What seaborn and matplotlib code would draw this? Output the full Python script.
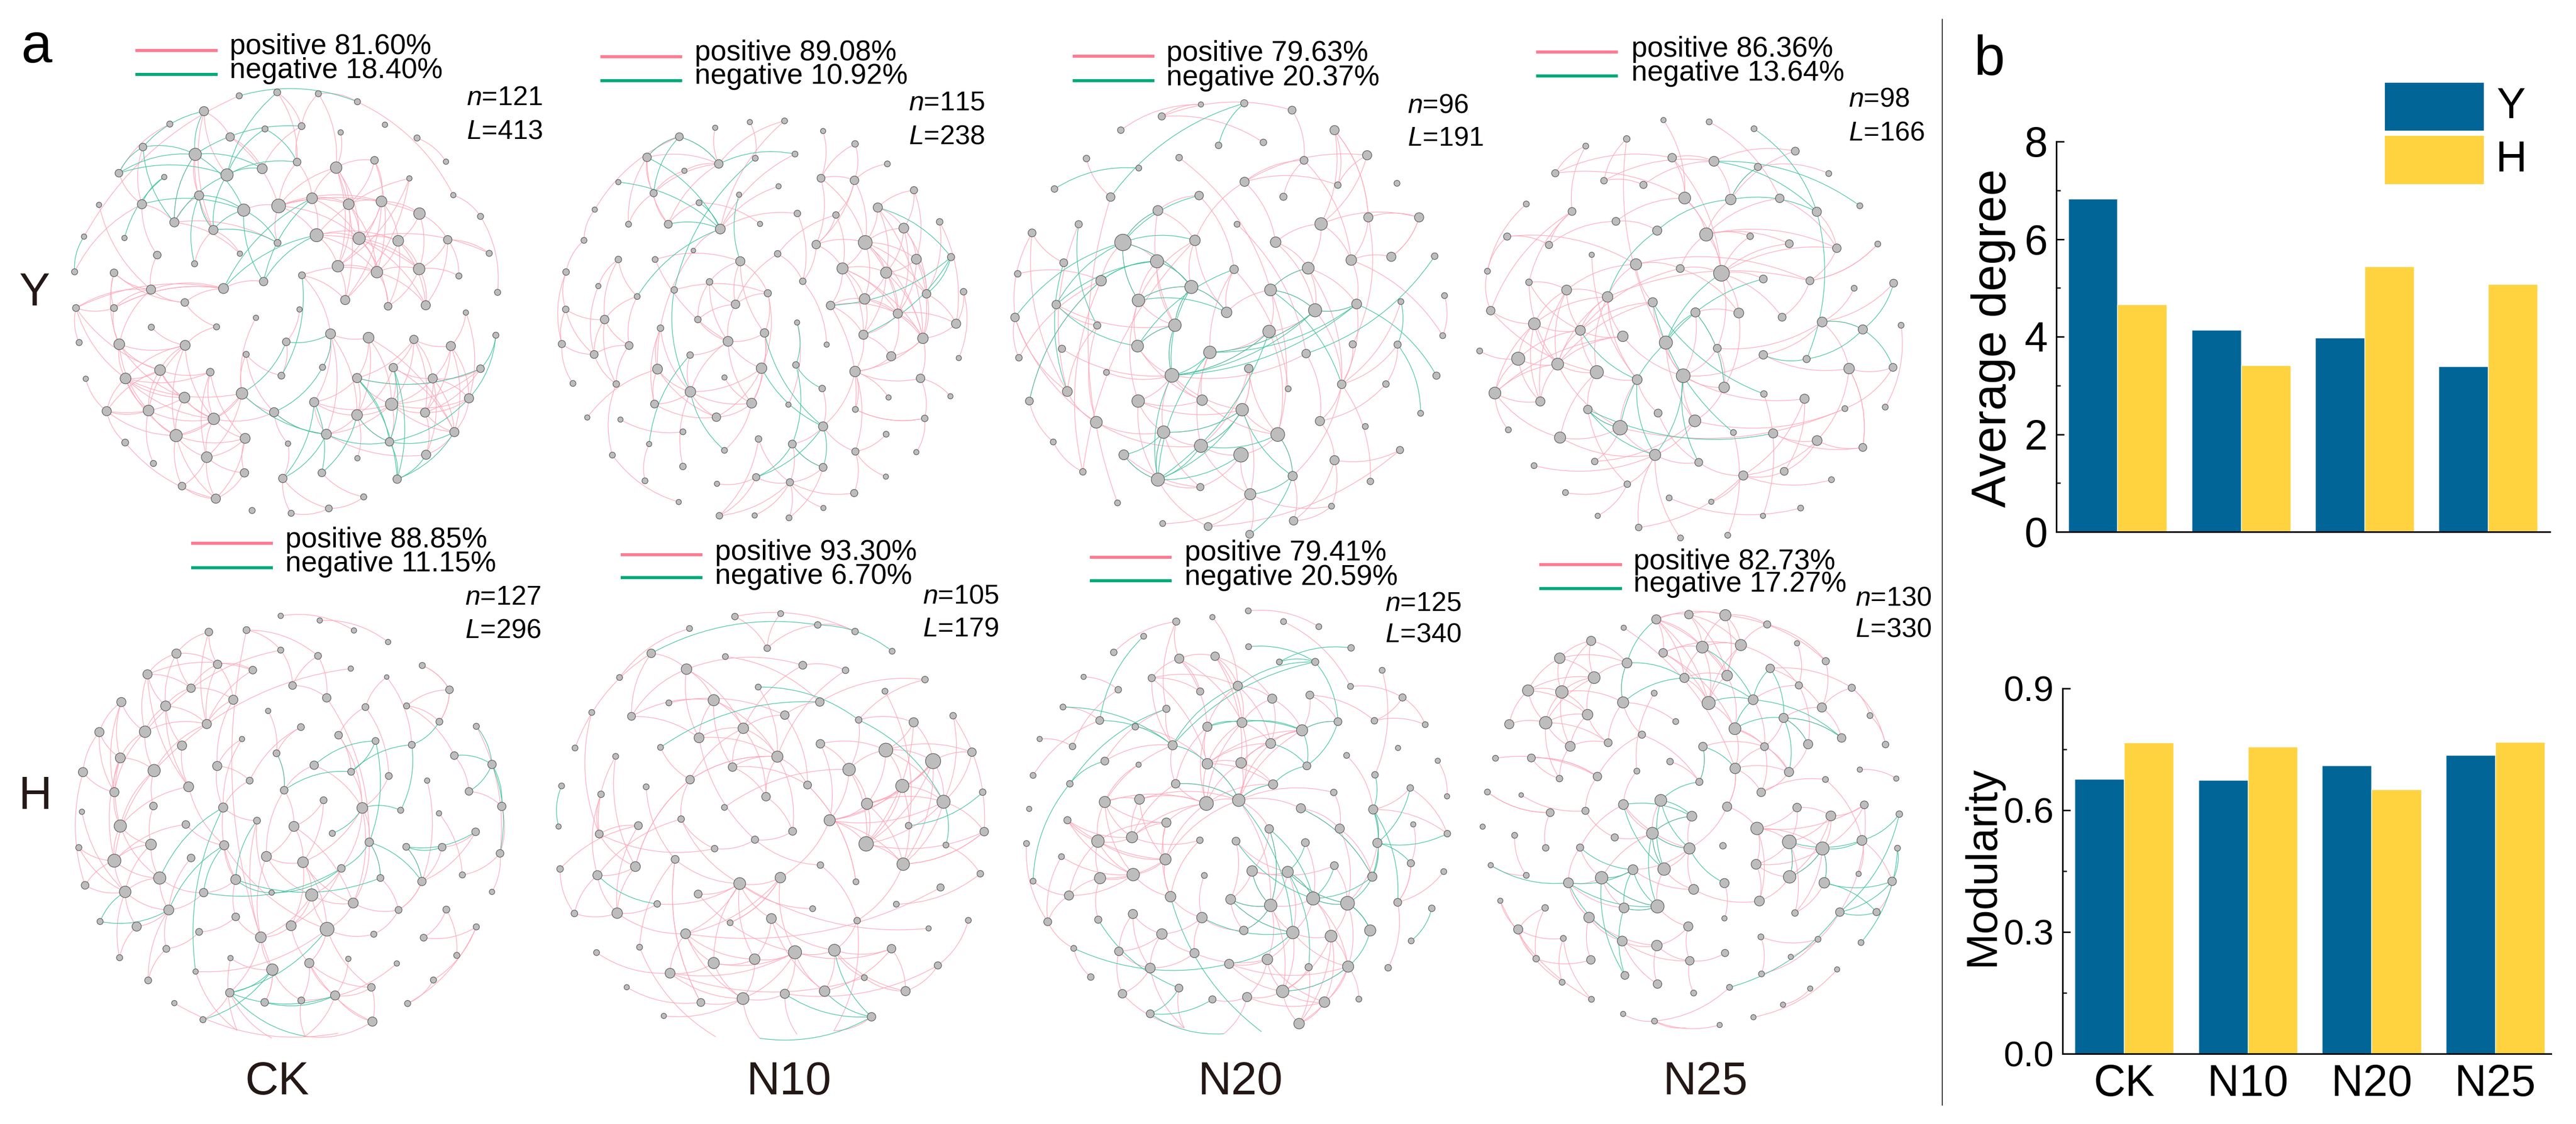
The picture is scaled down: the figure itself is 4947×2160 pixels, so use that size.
import numpy as np
import pandas as pd
import matplotlib
matplotlib.use('Agg')
import matplotlib.pyplot as plt
from matplotlib.path import Path
from matplotlib.patches import PathPatch, Rectangle
from matplotlib.lines import Line2D
import seaborn as sns

# Bar data
treatments = ['CK', 'N10', 'N20', 'N25']
degree_y = [6.83, 4.14, 3.98, 3.39]
degree_h = [4.66, 3.41, 5.44, 5.08]
modularity_y = [0.677, 0.674, 0.710, 0.736]
modularity_h = [0.767, 0.757, 0.651, 0.768]

# Network nodes: (x, y, radius) in crop units
nodes_y_ck = [(686,275,8),(795,265,9),(913,269,8),(1025,292,8),(585,319,12),(487,356,8),(865,362,9),(760,370,8),(977,380,7),(1104,358,7),
    (1196,396,8),(660,393,11),(410,422,10),(560,443,16),(852,465,10),(964,481,15),(1074,460,10),(1279,464,7),(341,497,10),(471,508,7),
    (651,502,16),(752,484,13),(1174,512,7),(284,588,7),(407,586,12),(571,561,12),(799,591,18),(895,569,14),(1000,586,14),(1094,578,14),
    (1300,560,7),(1203,613,15),(1378,621,8),(500,638,12),(699,603,16),(612,660,12),(241,679,7),(357,683,7),(908,675,17),(796,697,9),
    (1030,684,16),(1142,691,14),(1284,688,11),(688,728,7),(558,757,8),(451,732,10),(1403,727,8),(214,780,8),(327,783,10),(969,764,15),
    (1081,781,15),(1202,772,15),(866,790,9),(1316,792,8),(433,831,12),(641,828,13),(756,808,11),(1427,839,8),(990,861,12),(218,884,9),
    (327,884,9),(530,868,10),(1113,879,10),(1221,876,12),(859,888,7),(1336,897,7),(734,912,7),(434,939,8),(621,938,8),(948,958,13),
    (1057,969,14),(1187,974,11),(1422,962,8),(227,983,8),(342,988,14),(531,991,13),(821,981,10),(1293,993,12),(706,1017,8),(925,1054,8),
    (1128,1055,11),(1378,1058,10),(246,1087,7),(360,1086,14),(459,1062,14),(603,1068,10),(807,1078,9),(1024,1085,12),(1241,1086,12),(529,1141,14),
    (694,1129,15),(1345,1143,12),(306,1180,12),(426,1178,14),(613,1202,15),(786,1183,12),(901,1154,12),(1123,1160,16),(1219,1184,12),(1024,1191,14),
    (505,1250,16),(703,1258,13),(936,1246,13),(1303,1240,12),(359,1270,9),(826,1273,7),(1117,1268,11),(593,1312,14),(1222,1305,12),(1025,1315,7),
    (440,1330,8),(701,1357,11),(923,1357,10),(522,1395,10),(811,1373,11),(1139,1375,11),(619,1431,12),(1043,1426,8),(943,1459,9),(723,1465,8),(835,1473,8)]
nodes_y_n10 = [(697,130,8),(813,126,9),(581,149,8),(942,160,8),(461,179,12),(1049,203,10),(848,237,9),(353,248,13),(715,251,9),(593,270,13),
    (1157,270,9),(478,293,8),(935,318,12),(1047,325,13),(257,331,8),(793,345,8),(1246,358,11),(375,368,11),(661,373,8),(527,400,9),
    (1125,416,14),(178,423,8),(856,436,10),(985,441,10),(1332,464,10),(291,472,9),(424,472,12),(731,471,8),(598,488,15),(1212,485,15),
    (142,526,9),(1083,533,21),(919,540,13),(508,560,7),(790,571,10),(1370,582,11),(380,590,9),(257,590,10),(665,596,14),(1254,589,15),
    (1007,620,17),(1153,634,17),(82,632,10),(874,663,10),(562,665,10),(444,692,10),(190,679,8),(320,714,9),(757,703,11),(1288,705,13),
    (1412,698,10),(1081,722,16),(649,740,13),(967,744,13),(81,757,10),(1192,771,14),(211,791,13),(523,791,10),(855,801,8),(1387,805,14),
    (398,820,10),(746,836,13),(1077,842,14),(1276,854,16),(68,873,11),(624,864,15),(293,878,12),(954,875,8),(176,908,12),(497,910,10),
    (1170,914,14),(1396,920,8),(851,943,10),(388,957,15),(736,954,16),(1049,965,16),(1268,988,13),(105,1005,9),(250,1007,10),(612,985,8),
    (939,1022,10),(498,1033,16),(1161,1052,8),(1368,1048,8),(378,1074,12),(703,1071,15),(826,1076,8),(1050,1092,9),(153,1119,8),(264,1126,8),
    (585,1118,13),(1282,1122,10),(942,1149,14),(473,1167,9),(1153,1175,9),(726,1191,10),(360,1208,8),(839,1208,12),(612,1229,9),(1050,1233,11),
    (1254,1235,8),(237,1245,9),(473,1283,10),(942,1286,12),(346,1331,9),(718,1319,11),(587,1341,8),(831,1336,11),(1152,1317,8),(1046,1372,11),
    (459,1402,8),(943,1422,8),(595,1448,10),(713,1447,8),(828,1455,9)]
nodes_y_n20 = [(673,71,8),(818,67,11),(978,90,12),(542,111,11),(405,157,10),(1120,157,14),(882,198,10),(732,208,10),(600,249,10),(290,252,10),
    (1229,241,14),(1018,258,12),(465,284,9),(183,354,10),(819,330,14),(1131,341,10),(1329,335,9),(371,381,13),(949,380,11),(667,376,13),
    (529,426,15),(1233,449,14),(1403,449,14),(1075,471,19),(794,472,9),(264,472,11),(108,501,12),(412,533,25),(653,526,16),(923,532,16),
    (60,638,10),(214,601,12),(526,596,20),(1176,592,16),(1310,581,14),(1455,579,10),(1032,619,18),(784,623,13),(339,661,16),(641,682,20),
    (906,692,18),(189,741,13),(464,727,19),(1342,731,9),(1488,711,9),(1194,739,15),(1055,760,20),(759,767,16),(51,784,13),(586,810,19),
    (326,811,11),(901,831,19),(1482,845,9),(461,880,18),(208,889,11),(1181,874,11),(1331,875,11),(64,919,10),(703,901,19),(1025,905,13),
    (357,968,9),(833,955,13),(576,978,21),(1461,979,11),(1144,1008,13),(1292,1007,10),(965,1023,9),(226,1032,15),(99,1064,12),(463,1064,19),
    (677,1061,16),(811,1093,19),(1408,1105,9),(1071,1131,14),(323,1135,18),(1223,1149,9),(930,1176,21),(548,1168,19),(179,1201,9),(673,1214,20),
    (415,1244,15),(807,1244,22),(1120,1262,14),(1339,1228,11),(278,1301,10),(529,1327,20),(980,1315,14),(1240,1333,10),(671,1352,11),(838,1376,17),
    (394,1405,9),(1110,1416,9),(545,1474,9),(697,1484,12),(983,1465,13),(836,1510,12)]
nodes_y_n25 = [(670,71,8),(823,77,9),(973,100,9),(547,134,10),(410,158,9),(1111,175,12),(699,197,13),(839,209,15),(986,228,11),(308,249,11),
    (1223,250,9),(471,274,10),(603,288,11),(741,332,18),(895,337,16),(1059,333,13),(1327,358,9),(364,377,12),(1183,378,14),(211,352,9),
    (511,410,12),(649,441,14),(813,454,20),(147,461,11),(287,489,11),(960,460,10),(1091,485,12),(1250,500,13),(1387,486,9),(430,522,8),
    (578,554,17),(726,568,12),(864,584,24),(81,577,9),(220,614,10),(1004,603,12),(1160,609,12),(1440,617,12),(1308,634,9),(346,640,15),
    (483,663,16),(634,681,14),(92,709,13),(777,715,14),(922,717,15),(1067,731,12),(238,753,18),(1201,747,15),(392,775,15),(1465,758,9),
    (1337,772,14),(534,795,16),(678,816,20),(850,835,12),(55,844,9),(1004,857,13),(1149,871,11),(184,870,20),(316,888,18),(447,915,20),
    (736,927,21),(1291,903,16),(1438,899,12),(582,940,15),(873,966,16),(106,985,18),(1006,988,10),(258,1013,14),(1142,1004,14),(1412,1032,9),
    (1277,1037,9),(417,1040,13),(652,1052,12),(775,1078,18),(151,1108,9),(525,1101,22),(904,1117,9),(324,1134,17),(1037,1120,14),(1184,1144,15),
    (1337,1167,12),(642,1192,17),(440,1214,10),(788,1217,12),(237,1228,9),(1074,1247,12),(937,1261,14),(1232,1275,9),(549,1290,10),(342,1318,9),
    (689,1336,9),(830,1349,8),(1129,1370,9),(450,1396,8),(1003,1396,8),(587,1435,10),(885,1461,9),(727,1470,9)]
nodes_h_ck = [(805,248,7),(917,260,7),(1015,286,7),(1113,316,7),(707,285,9),(599,290,10),(805,337,8),(506,346,12),(912,352,9),(1006,385,7),
    (1211,377,8),(624,374,11),(725,389,10),(423,400,12),(1109,407,6),(1289,440,10),(839,429,10),(548,436,11),(937,461,11),(348,472,12),
    (669,466,12),(475,482,13),(1048,485,9),(769,495,7),(1166,482,8),(1260,523,9),(593,529,12),(1366,535,8),(285,550,12),(416,549,15),
    (863,537,9),(971,558,10),(694,568,7),(1077,573,9),(522,585,12),(1181,583,9),(793,605,9),(1303,611,10),(345,617,13),(1411,634,11),
    (442,650,16),(238,654,12),(623,638,12),(901,636,11),(1007,653,9),(1115,664,9),(716,676,9),(1225,676,7),(541,692,13),(815,701,10),
    (1345,704,10),(328,706,12),(928,727,9),(235,757,7),(440,742,10),(640,746,12),(1039,747,14),(1149,753,8),(1259,761,7),(1439,743,11),
    (737,780,9),(345,794,16),(843,795,13),(533,790,10),(953,813,8),(1364,809,10),(226,850,8),(433,842,14),(643,844,12),(1059,836,11),
    (1165,848,9),(1268,849,10),(1434,865,10),(764,873,13),(328,884,17),(548,877,10),(869,888,14),(244,948,10),(458,929,16),(676,933,13),
    (979,904,10),(1091,929,9),(1326,921,8),(1210,938,11),(359,965,15),(584,967,11),(779,967,7),(894,973,16),(1411,965,7),(1013,994,13),
    (484,1012,13),(1143,1012,9),(1280,1011,9),(676,1030,10),(287,1042,8),(835,1053,13),(392,1055,12),(938,1062,18),(571,1069,9),(1072,1075,8),
    (748,1083,14),(1215,1084,9),(1366,1056,8),(477,1113,9),(343,1136,8),(661,1137,7),(999,1139,7),(1310,1130,8),(887,1150,12),(1138,1151,7),
    (781,1167,15),(561,1172,7),(425,1195,9),(1243,1194,8),(1065,1213,10),(659,1227,11),(961,1234,12),(759,1252,10),(864,1247,9),(500,1254,7),
    (1169,1255,8),(582,1297,8),(1068,1302,12),(875,1340,0),(680,1325,0),(780,1345,0),(970,1332,0)]
nodes_h_n10 = [(647,113,10),(800,103,9),(924,141,10),(1049,163,10),(495,153,9),(755,219,10),(1173,229,9),(367,236,13),(615,247,9),(874,276,12),
    (485,289,16),(261,317,9),(1017,293,10),(1283,324,10),(725,349,9),(1149,363,9),(576,393,17),(426,402,9),(931,399,13),(301,447,12),
    (168,434,9),(814,443,13),(1061,459,10),(1377,445,10),(1245,467,14),(675,487,16),(527,519,15),(112,553,9),(398,551,9),(933,539,13),
    (1152,560,21),(1440,567,13),(789,582,17),(248,581,9),(1310,597,23),(639,617,13),(1029,625,19),(497,659,13),(890,677,12),(1207,680,20),
    (67,680,9),(350,683,9),(1476,701,10),(199,708,10),(751,716,13),(1345,733,20),(612,752,9),(1089,740,17),(467,791,10),(964,795,17),
    (57,816,8),(324,813,12),(193,841,12),(1228,813,10),(840,832,12),(1481,833,13),(714,860,11),(579,890,10),(1086,874,22),(1353,878,9),
    (933,945,10),(447,926,12),(62,958,10),(314,950,15),(1210,942,19),(187,979,14),(1468,974,10),(799,987,16),(663,1007,18),(1052,1001,9),
    (524,1042,12),(1335,1020,11),(387,1075,10),(1187,1076,9),(110,1107,10),(253,1106,16),(907,1091,9),(769,1124,15),(1056,1131,10),(631,1138,9),
    (1428,1130,9),(1295,1157,8),(482,1175,15),(1171,1225,13),(184,1238,9),(328,1220,9),(848,1237,20),(980,1230,18),(713,1260,16),(576,1273,17),
    (1326,1281,11),(430,1307,15),(1080,1322,9),(285,1354,8),(947,1367,16),(1218,1367,14),(533,1405,12),(674,1392,18),(814,1376,14),(409,1450,8),
    (1104,1453,13),(583,1520,0),(730,1525,0),(855,1512,0),(978,1500,0)]
nodes_h_n20 = [(814,59,9),(694,80,8),(573,95,11),(932,95,9),(1050,112,9),(464,144,9),(815,179,9),(1158,183,10),(364,198,10),(583,219,14),
    (703,211,13),(918,230,9),(1038,230,11),(263,280,8),(491,284,11),(1262,258,9),(1156,312,9),(379,323,10),(779,310,14),(653,329,11),
    (1020,341,12),(894,353,14),(1330,349,11),(194,381,9),(540,387,11),(317,426,12),(793,433,15),(1114,430,12),(1236,427,10),(1406,440,9),
    (436,447,10),(677,447,14),(994,459,17),(116,488,8),(889,503,15),(561,509,14),(226,513,10),(1315,518,8),(1143,543,9),(334,562,12),
    (677,571,16),(790,568,16),(1448,561,8),(447,574,8),(1010,578,12),(94,610,9),(1238,608,10),(217,638,10),(571,638,13),(897,640,14),
    (1356,652,10),(1100,667,10),(1479,680,8),(334,699,17),(450,690,15),(674,704,21),(782,693,19),(990,720,14),(1232,724,14),(81,722,8),
    (209,760,11),(540,768,14),(884,789,13),(1120,788,14),(1366,774,8),(1480,805,10),(425,817,17),(311,830,19),(652,827,10),(773,830,12),
    (1005,835,12),(1246,836,14),(72,838,9),(189,882,9),(537,891,17),(1358,904,11),(1102,912,12),(827,930,16),(946,933,17),(429,942,19),
    (1468,932,9),(667,945,9),(318,954,17),(94,964,9),(1229,949,14),(214,1012,14),(554,1016,16),(1031,1022,20),(755,1025,15),(1146,1038,21),
    (889,1045,19),(1314,1035,12),(1428,1055,10),(428,1074,14),(312,1093,11),(659,1086,16),(143,1100,12),(799,1129,13),(963,1136,19),(1091,1148,18),
    (1222,1129,17),(525,1141,16),(1359,1164,9),(230,1189,9),(381,1199,13),(634,1205,14),(878,1226,16),(750,1241,14),(486,1255,15),(1016,1252,11),
    (1148,1250,17),(1282,1254,10),(287,1285,10),(582,1322,12),(393,1341,13),(694,1360,11),(810,1352,14),(929,1333,19),(1069,1369,16),(1184,1359,9),
    (486,1408,12),(984,1441,16),(600,1455,0),(732,1475,0),(858,1468,0)]
nodes_h_n25 = [(646,105,14),(755,89,13),(877,91,17),(537,133,8),(1017,122,11),(428,177,14),(1117,185,8),(800,198,18),(929,191,17),(323,235,16),
    (669,217,13),(548,251,15),(1213,245,11),(1027,269,13),(438,300,18),(740,301,14),(883,293,16),(1123,326,11),(1300,334,11),(217,343,17),
    (330,348,19),(639,352,9),(535,383,17),(821,385,20),(970,374,15),(1200,400,14),(416,424,16),(1361,427,9),(1072,435,14),(711,447,9),
    (154,456,14),(276,451,19),(909,471,18),(1266,502,13),(598,491,11),(485,518,12),(1154,523,14),(1413,524,10),(358,530,15),(802,531,13),
    (1008,531,12),(108,570,9),(228,569,12),(692,581,10),(581,613,9),(910,604,16),(1090,616,14),(1327,608,8),(449,631,13),(322,638,10),
    (1449,638,8),(790,649,11),(1212,641,9),(997,684,13),(81,683,9),(194,693,7),(536,725,15),(661,711,18),(883,732,14),(1117,735,13),
    (1342,726,12),(291,752,12),(409,746,11),(765,764,15),(1230,763,15),(1459,757,10),(983,805,19),(65,799,8),(172,828,9),(507,835,11),
    (633,821,18),(1091,850,21),(1334,845,15),(869,863,10),(757,872,17),(1202,872,20),(276,870,10),(391,869,11),(1453,871,9),(92,928,8),
    (980,925,15),(568,943,15),(672,941,19),(1323,957,8),(463,970,19),(211,962,9),(1092,967,19),(352,987,15),(874,988,14),(1208,987,16),
    (1435,982,13),(771,1009,15),(991,1048,15),(124,1047,8),(650,1066,20),(538,1071,15),(274,1071,10),(1110,1088,10),(1260,1085,13),(1383,1085,11),
    (874,1106,8),(421,1103,16),(753,1133,14),(184,1143,14),(996,1168,9),(335,1173,9),(532,1182,15),(1187,1176,9),(648,1197,16),(1331,1187,9),
    (1096,1235,8),(876,1222,11),(244,1241,10),(427,1245,13),(758,1248,13),(998,1292,9),(1251,1277,8),(541,1297,12),(331,1320,9),(650,1326,13),
    (891,1337,9),(771,1356,9),(1161,1341,8),(1070,1395,8),(429,1377,9),(535,1426,8),(640,1450,9),(971,1437,8),(858,1463,8),(745,1472,0)]

# Edges between node indices, the clearest links read from each network
pos_y_ck = [(0,36),(1,6),(1,14),(2,3),(2,15),(2,6),(3,30),(4,11),(4,20),(4,35),(5,18),(6,14),(6,21),(8,15),(11,21),(11,26),(13,25),(13,33),(13,35),(14,26),
    (14,27),(15,16),(15,26),(15,27),(15,28),(15,40),(15,49),(15,58),(16,28),(16,50),(16,29),(22,38),(22,49),(22,58),(23,54),(24,18),(24,33),(24,12),(25,35),(25,33),
    (26,28),(26,29),(26,38),(26,34),(26,31),(26,40),(26,39),(27,28),(27,38),(27,40),(28,29),(28,40),(28,50),(28,49),(29,31),(29,49),(29,58),(29,40),(29,41),(31,41),
    (31,51),(31,42),(33,39),(33,43),(35,43),(38,40),(38,41),(38,49),(38,50),(38,51),(40,41),(40,50),(40,51),(40,63),(40,62),(40,46),(41,51),(41,50),(41,62),(41,63),
    (42,46),(42,51),(42,53),(42,63),(44,35),(45,54),(45,24),(47,24),(48,54),(48,61),(48,60),(48,74),(49,50),(49,58),(50,51),(50,62),(50,63),(51,53),(51,63),(51,62),
    (52,58),(52,50),(52,69),(54,55),(54,61),(54,59),(54,60),(54,74),(55,56),(55,60),(55,59),(55,61),(32,57),(59,60),(59,73),(59,83),(59,84),(60,55),(60,74),(61,68),
    (67,75),(68,75),(66,90),(64,76),(65,77),(74,83),(74,84),(74,93),(74,89),(74,75),(75,84),(75,83),(75,93),(75,100),(75,94),(83,84),(83,89),(83,92),(83,93),(83,94),
    (83,100),(83,85),(83,90),(84,89),(84,85),(84,93),(84,94),(84,92),(85,94),(85,101),(85,107),(89,94),(89,92),(89,100),(90,94),(90,100),(90,95),(90,107),(92,93),(92,100),
    (92,104),(92,82),(93,100),(93,110),(93,94),(94,100),(94,101),(94,107),(94,95),(100,107),(100,116),(100,113),(100,101),(101,107),(101,111),(101,116),(107,111),(107,113),(107,116),(111,116),
    (113,116),(104,116),(105,114),(114,118),(114,120),(112,117),(118,120),(118,117),(78,95),(78,90),(78,86),(76,86),(69,96),(69,99),(69,70),(69,79),(69,102),(70,87),(70,97),(70,99),
    (70,103),(71,97),(71,87),(71,80),(71,98),(71,77),(71,88),(77,88),(77,98),(77,103),(77,91),(80,88),(80,103),(80,97),(80,99),(81,87),(81,88),(81,97),(81,98),(87,96),
    (87,99),(87,97),(88,97),(88,98),(88,91),(88,103),(88,108),(91,97),(91,98),(91,103),(96,97),(96,99),(96,102),(97,99),(97,98),(97,102),(97,106),(97,103),(98,103),(98,108),
    (99,102),(99,106),(99,109),(102,108),(103,108),(65,91),(95,102),(105,95),(10,17),(30,32)]
neg_y_ck = [(0,3),(1,20),(6,13),(7,14),(7,20),(4,12),(4,13),(12,13),(18,13),(18,12),(18,20),(12,33),(13,34),(13,33),(20,35),(20,33),(25,34),(25,35),(24,34),(24,19),
    (37,19),(36,47),(44,25),(34,35),(34,39),(35,39),(20,21),(20,14),(13,21),(27,56),(38,55),(38,56),(27,55),(34,56),(52,86),(69,76),(69,79),(76,90),(95,79),(90,102),
    (95,102),(96,114),(96,112),(102,114),(99,112),(87,81),(102,106),(99,106),(87,106),(87,115),(80,106),(80,115),(106,115),(108,115),(103,115),(72,81),(72,91),(91,106),(103,106)]

pos_y_n10 = [(0,8),(1,9),(1,28),(2,9),(3,12),(4,7),(4,9),(4,21),(5,12),(5,13),(7,17),(7,25),(7,26),(7,9),(9,11),(9,26),(9,17),(10,13),(11,17),(12,13),
    (12,32),(12,31),(13,31),(13,32),(13,23),(15,28),(6,28),(16,20),(16,29),(16,39),(17,26),(17,25),(19,26),(19,27),(20,31),(20,29),(20,41),(20,63),(22,28),(22,43),
    (23,34),(23,32),(23,40),(24,59),(24,49),(29,39),(29,41),(29,55),(29,49),(29,31),(31,40),(31,41),(31,39),(31,51),(31,55),(31,49),(31,63),(32,40),(32,43),(32,31),
    (33,28),(33,73),(34,43),(34,52),(36,38),(36,65),(37,46),(37,47),(37,56),(38,44),(38,48),(38,52),(38,61),(39,41),(39,49),(39,55),(39,63),(40,41),(40,51),(40,55),
    (40,53),(40,62),(40,63),(41,49),(41,51),(41,55),(41,62),(41,63),(42,54),(42,64),(42,30),(30,21),(43,67),(44,52),(44,65),(44,57),(45,48),(46,68),(47,56),(47,66),
    (48,52),(48,61),(48,74),(49,59),(49,63),(50,59),(50,71),(51,55),(51,62),(51,53),(51,63),(52,57),(52,65),(53,62),(53,55),(53,87),(54,56),(54,68),(54,64),(55,63),
    (55,62),(55,59),(55,70),(56,68),(56,66),(56,78),(57,65),(58,86),(59,63),(60,73),(60,81),(60,84),(61,65),(61,74),(61,85),(62,70),(62,75),(63,70),(63,76),(63,75),
    (64,68),(64,77),(65,74),(65,81),(65,85),(66,68),(66,78),(68,78),(69,81),(69,65),(70,75),(73,81),(73,84),(73,90),(74,85),(74,90),(74,81),(75,76),(75,82),(75,87),
    (75,92),(75,99),(76,91),(76,83),(78,101),(79,85),(81,84),(81,85),(81,90),(81,102),(84,90),(85,90),(85,98),(87,91),(88,73),(89,93),(92,97),(92,99),(92,80),(94,99),
    (97,107),(97,103),(99,108),(99,109),(100,91),(101,110),(96,104),(95,112),(95,107),(105,107),(105,106),(107,109),(107,111),(107,112),(107,113),(107,114),(103,107),(103,114),(112,105),(91,87)]
neg_y_n10 = [(4,7),(4,17),(4,9),(7,28),(14,28),(6,9),(8,45),(18,38),(19,28),(26,28),(28,47),(45,81),(69,96),(81,98),(58,72),(72,97),(72,80),(61,92),(74,92),(92,105),
    (97,105),(97,103),(92,103),(20,35),(35,53),(35,62),(35,49)]

pos_y_n20 = [(0,4),(0,3),(2,3),(3,6),(9,17),(2,11),(5,21),(5,23),(5,15),(10,14),(10,15),(10,23),(11,14),(11,18),(11,33),(14,15),(14,29),(14,28),(8,40),(19,20),
    (19,37),(20,27),(20,49),(20,28),(21,22),(21,33),(21,5),(22,23),(22,34),(23,29),(23,33),(23,36),(24,59),(26,31),(26,48),(26,67),(27,32),(27,38),(27,42),(27,39),
    (28,39),(28,47),(28,42),(29,36),(29,46),(30,38),(32,39),(32,42),(32,49),(33,34),(33,45),(33,52),(34,22),(36,40),(36,45),(36,46),(36,64),(37,47),(37,58),(37,66),
    (39,42),(39,47),(39,49),(40,46),(40,51),(40,47),(40,76),(42,49),(42,53),(42,69),(41,49),(41,50),(43,64),(44,52),(45,46),(45,64),(46,51),(46,58),(46,64),(48,67),
    (48,74),(48,57),(49,53),(49,62),(50,67),(50,74),(51,58),(51,62),(51,76),(53,62),(53,70),(54,62),(55,21),(55,64),(56,65),(56,64),(57,38),(58,70),(58,79),(59,62),
    (60,62),(61,71),(61,79),(61,76),(62,70),(62,69),(62,77),(62,71),(64,73),(64,86),(65,73),(67,74),(68,38),(68,78),(69,70),(69,71),(69,77),(69,85),(70,76),(71,76),
    (71,79),(71,77),(71,89),(73,82),(73,59),(74,77),(74,79),(76,81),(76,86),(77,79),(77,85),(77,88),(78,84),(79,81),(79,89),(80,85),(80,88),(81,89),(81,88),(82,83),
    (82,91),(82,94),(84,38),(85,88),(85,93),(86,94),(89,91),(89,92),(89,95),(93,89),(93,83),(94,91),(64,87),(61,71),(84,28),(90,17),(25,67)]
neg_y_n20 = [(1,17),(1,7),(12,13),(20,27),(19,27),(27,28),(27,39),(27,42),(32,39),(32,38),(48,27),(41,27),(31,67),(25,50),(41,32),(41,53),(68,38),(38,32),(42,39),(39,47),
    (42,47),(53,49),(49,39),(49,62),(58,62),(62,51),(62,46),(62,45),(58,46),(58,45),(39,62),(37,53),(36,40),(40,46),(40,64),(45,46),(51,85),(71,77),(77,85),(79,85),
    (81,85),(80,85),(71,85),(79,76),(79,71),(76,86),(71,86),(86,89),(86,95),(77,80),(58,85),(62,85),(35,59),(45,63),(43,56),(56,72)]

pos_y_n25 = [(0,13),(1,15),(3,11),(3,52),(4,17),(4,9),(5,7),(5,14),(6,9),(6,7),(6,13),(6,32),(7,12),(7,14),(7,11),(8,14),(9,13),(10,8),(11,12),(13,22),
    (13,32),(13,20),(14,22),(15,27),(15,22),(17,24),(19,33),(17,34),(20,21),(20,24),(22,25),(22,26),(22,27),(22,32),(22,31),(23,24),(23,30),(23,33),(25,32),(26,32),
    (27,36),(27,32),(28,36),(29,63),(30,31),(30,41),(30,40),(30,39),(30,36),(31,32),(31,44),(31,48),(32,44),(32,35),(32,53),(33,42),(34,39),(34,48),(34,58),(36,45),
    (36,40),(38,47),(39,40),(39,46),(39,48),(39,58),(39,67),(40,46),(40,48),(40,51),(40,58),(40,59),(40,63),(41,48),(41,58),(41,60),(42,46),(42,17),(42,59),(43,60),
    (43,44),(43,64),(44,64),(45,32),(46,57),(46,58),(46,65),(46,67),(46,48),(47,55),(47,37),(47,53),(47,61),(47,50),(48,51),(48,58),(48,59),(48,57),(49,69),(51,58),
    (51,60),(51,65),(52,60),(52,73),(53,64),(53,60),(54,57),(55,60),(55,61),(57,58),(57,65),(57,67),(58,65),(58,67),(58,59),(58,75),(59,63),(59,71),(59,77),(60,68),
    (60,73),(60,64),(61,62),(61,79),(61,80),(62,70),(63,75),(63,72),(64,73),(65,77),(65,74),(65,67),(66,94),(68,85),(68,86),(70,75),(70,73),(71,75),(71,88),(72,83),
    (73,81),(73,82),(75,77),(75,81),(76,96),(77,81),(78,79),(78,80),(79,80),(79,85),(79,86),(81,83),(81,84),(81,97),(81,95),(82,75),(83,86),(85,86),(86,95),(86,91),
    (88,81),(88,89),(90,92),(93,88),(18,27),(28,36),(61,80),(87,86)]
neg_y_n25 = [(2,18),(7,16),(8,14),(7,18),(14,18),(18,56),(14,21),(21,40),(32,52),(35,52),(43,52),(43,64),(41,66),(48,63),(63,81),(71,81),(71,75),(71,78),(60,81),(60,83),
    (52,75),(47,50),(50,56),(55,56),(50,62),(37,50),(41,76)]

pos_h_ck = [(0,2),(1,3),(4,6),(4,8),(4,110),(5,7),(5,26),(5,11),(6,16),(6,29),(7,13),(7,17),(7,21),(7,11),(8,18),(8,16),(9,40),(10,15),(11,12),(11,17),
    (11,20),(11,26),(12,13),(12,26),(13,17),(13,21),(13,48),(13,29),(14,22),(14,35),(15,25),(15,24),(15,10),(16,18),(17,21),(17,20),(18,69),(19,29),(19,28),(19,38),
    (19,51),(20,26),(20,42),(21,29),(21,34),(21,48),(21,26),(22,31),(22,45),(23,36),(24,25),(24,37),(25,15),(26,29),(26,40),(27,72),(28,38),(28,41),(28,51),(29,38),
    (29,40),(29,51),(30,36),(30,46),(31,44),(31,56),(32,42),(32,55),(34,48),(36,49),(37,50),(38,51),(38,40),(38,74),(38,61),(40,61),(40,54),(40,74),(41,51),(41,77),
    (42,55),(42,46),(43,49),(43,56),(44,56),(45,56),(46,55),(47,83),(48,68),(48,61),(49,62),(49,73),(50,59),(51,61),(52,62),(52,76),(53,84),(54,67),(55,60),(55,79),
    (56,76),(56,80),(56,89),(56,69),(58,82),(59,72),(60,86),(60,100),(61,67),(61,74),(61,78),(62,76),(62,73),(62,89),(63,74),(63,68),(65,71),(65,83),(66,74),(66,84),
    (67,74),(67,78),(67,84),(68,79),(68,97),(69,81),(69,89),(70,83),(71,83),(72,82),(72,88),(73,76),(73,100),(73,87),(74,77),(74,78),(74,84),(75,90),(76,87),(76,97),
    (76,95),(76,89),(77,84),(78,84),(78,85),(78,90),(79,85),(79,93),(80,87),(80,95),(81,91),(83,91),(84,96),(84,90),(84,104),(85,90),(87,95),(87,97),(87,100),(87,89),
    (89,91),(89,97),(90,103),(90,96),(90,112),(91,83),(92,101),(92,107),(93,100),(93,98),(95,108),(95,100),(97,108),(97,114),(97,99),(99,91),(100,110),(100,115),(102,101),(102,113),
    (103,112),(103,98),(104,96),(105,110),(106,116),(108,116),(108,118),(108,122),(108,114),(109,118),(110,117),(110,118),(111,124),(111,97),(114,122),(114,116),(115,121),(115,125),(116,122),(116,123),
    (117,110),(118,123),(119,126),(120,113),(122,123),(124,105),(120,102)]
neg_h_ck = [(94,84),(94,90),(55,78),(55,111),(68,85),(68,90),(36,49),(33,43),(33,44),(44,49),(44,35),(25,35),(35,57),(33,69),(69,80),(56,64),(56,57),(37,39),(27,39),(39,50),
    (39,59),(39,72),(69,81),(70,83),(70,71),(70,65),(69,83),(79,60),(79,81),(80,85),(80,86),(79,86),(97,115),(110,115),(110,121),(115,116),(115,123),(117,116)]

pos_h_n10 = [(0,3),(0,5),(1,5),(2,3),(2,5),(4,11),(7,10),(7,19),(7,27),(8,18),(9,12),(9,10),(9,25),(10,16),(10,19),(10,25),(10,26),(12,32),(13,22),(13,18),
    (14,32),(15,53),(16,19),(16,26),(16,25),(16,32),(16,35),(17,21),(19,26),(20,52),(21,25),(21,18),(21,38),(22,36),(24,30),(24,34),(24,22),(24,58),(25,26),(25,35),
    (25,37),(25,32),(25,44),(26,56),(26,32),(29,36),(29,49),(29,30),(30,31),(30,34),(30,36),(30,39),(30,47),(30,45),(31,34),(31,45),(32,35),(32,44),(32,37),(32,38),
    (32,54),(33,52),(33,63),(34,39),(34,45),(34,47),(34,49),(34,64),(34,58),(35,44),(35,38),(36,47),(36,58),(36,49),(36,46),(37,48),(37,63),(37,32),(38,69),(39,45),
    (39,47),(39,49),(39,64),(39,58),(41,61),(43,52),(43,65),(44,54),(45,47),(45,49),(45,55),(45,64),(45,58),(23,55),(23,45),(47,49),(47,58),(47,64),(48,57),(48,68),
    (48,65),(49,58),(49,64),(49,67),(51,52),(51,75),(52,63),(52,57),(54,56),(55,64),(55,58),(56,57),(56,60),(58,64),(59,66),(60,78),(61,68),(61,85),(61,96),(62,51),
    (62,74),(63,65),(63,75),(63,37),(64,55),(65,74),(65,75),(67,82),(67,68),(67,86),(67,79),(68,76),(68,70),(68,82),(68,89),(68,77),(68,88),(70,86),(71,82),(72,68),
    (73,66),(74,75),(75,72),(75,82),(77,88),(77,87),(77,94),(78,87),(78,64),(78,104),(79,67),(80,90),(81,68),(82,89),(82,88),(82,91),(82,97),(83,87),(83,95),(83,86),
    (84,91),(85,101),(86,87),(86,88),(86,94),(86,91),(86,97),(86,89),(86,98),(87,92),(87,94),(87,95),(88,89),(88,97),(89,91),(89,97),(90,98),(90,95),(91,97),(91,92),
    (92,95),(93,96),(94,83),(96,97),(97,102),(97,98),(98,103),(99,97),(100,104),(96,61),(69,38),(28,37)]
neg_h_n10 = [(7,2),(2,6),(14,22),(18,28),(22,45),(40,50),(53,42),(45,59),(65,72),(98,100),(87,100),(94,100),(100,102)]

pos_h_n20 = [(0,4),(1,18),(2,8),(2,9),(2,24),(3,16),(9,10),(9,14),(9,19),(9,26),(9,31),(10,18),(10,21),(10,26),(10,41),(14,18),(14,19),(14,35),(14,40),(17,36),
    (13,17),(18,21),(18,26),(18,31),(18,34),(20,32),(20,27),(20,28),(21,26),(21,32),(21,34),(22,28),(22,29),(22,16),(23,25),(24,35),(24,39),(25,45),(26,40),(26,34),
    (26,55),(26,56),(27,32),(28,29),(30,40),(31,40),(31,55),(31,48),(32,34),(32,40),(32,41),(32,56),(33,36),(34,41),(34,40),(34,56),(35,39),(35,53),(35,48),(38,58),
    (40,41),(40,55),(40,56),(40,49),(41,55),(41,56),(41,49),(43,53),(46,15),(48,55),(48,56),(48,66),(49,55),(49,56),(50,58),(50,65),(51,56),(51,63),(52,42),(53,54),
    (53,55),(53,61),(53,66),(53,67),(53,79),(54,55),(54,56),(54,66),(54,74),(55,56),(55,61),(55,66),(55,74),(56,57),(56,90),(56,62),(57,63),(57,84),(58,65),(58,71),
    (60,66),(60,67),(60,74),(60,79),(61,66),(61,67),(61,74),(61,86),(62,77),(62,90),(63,89),(63,84),(64,75),(67,74),(67,79),(67,82),(67,85),(67,66),(68,66),(68,86),
    (69,88),(69,78),(70,87),(71,84),(71,89),(72,96),(73,79),(74,79),(74,82),(74,86),(74,56),(75,91),(76,89),(76,77),(77,78),(77,88),(77,90),(78,87),(78,89),(78,90),
    (78,98),(79,82),(79,85),(79,86),(80,91),(81,95),(82,85),(82,94),(83,85),(85,96),(86,95),(87,89),(87,98),(87,90),(87,99),(87,110),(88,90),(88,98),(88,97),(89,99),
    (89,100),(89,110),(90,98),(90,97),(90,106),(90,117),(91,111),(91,75),(93,101),(93,108),(93,104),(95,101),(95,105),(95,97),(96,73),(96,103),(98,106),(98,117),(98,110),(98,99),
    (99,110),(99,118),(99,117),(101,104),(101,105),(101,108),(103,112),(104,108),(104,114),(105,108),(105,106),(106,117),(106,118),(106,116),(107,117),(107,106),(107,110),(108,114),(108,122),(109,117),
    (110,117),(110,118),(110,119),(113,122),(114,122),(115,116),(116,117),(116,118),(116,123),(117,121),(117,118),(118,121),(121,109),(121,99),(121,110)]
neg_h_n20 = [(5,25),(6,12),(7,11),(11,12),(12,18),(12,27),(12,35),(18,35),(23,35),(25,35),(24,47),(31,32),(31,26),(35,40),(34,44),(32,44),(27,32),(27,44),(39,47),(47,83),
    (49,44),(48,56),(40,56),(49,56),(26,32),(56,98),(57,84),(58,71),(46,58),(71,75),(71,65),(58,84),(50,71),(69,87),(62,90),(62,87),(70,78),(77,90),(78,87),(78,89),
    (87,89),(89,100),(87,76),(88,98),(88,90),(95,98),(97,90),(98,107),(94,113),(103,107),(86,124),(110,117),(100,110),(100,89),(84,87),(84,89),(91,58),(92,102),(113,120),(115,120),
    (120,123),(109,78),(71,84)]

pos_h_n25 = [(0,1),(0,2),(0,7),(0,15),(0,16),(0,23),(0,10),(1,2),(1,7),(1,8),(1,16),(2,4),(2,7),(2,8),(2,16),(2,12),(3,45),(4,8),(4,12),(5,9),
    (5,11),(5,14),(5,20),(6,17),(7,8),(7,10),(7,15),(7,16),(7,23),(8,10),(8,16),(8,23),(8,17),(9,14),(9,19),(9,20),(9,11),(10,23),(10,32),(11,22),
    (11,14),(12,25),(13,18),(13,25),(14,19),(14,20),(14,26),(14,31),(15,16),(15,23),(16,23),(16,32),(17,36),(17,24),(18,25),(18,27),(18,37),(19,20),(19,26),(19,30),
    (19,31),(20,26),(20,31),(20,38),(20,22),(21,44),(22,29),(22,35),(22,34),(23,32),(24,40),(25,28),(25,33),(26,31),(26,35),(26,38),(27,37),(28,36),(28,40),(30,31),
    (31,38),(31,35),(31,49),(32,40),(32,45),(32,46),(33,28),(34,48),(34,51),(35,38),(36,46),(38,49),(39,40),(39,51),(40,45),(40,46),(40,53),(41,48),(42,48),(42,49),
    (43,51),(44,56),(45,46),(45,58),(45,53),(46,53),(47,50),(48,62),(48,42),(52,53),(52,72),(54,61),(55,62),(56,70),(56,74),(56,77),(57,70),(58,66),(58,74),(58,45),
    (59,64),(59,71),(59,66),(60,64),(60,75),(60,66),(60,98),(61,76),(61,54),(62,69),(63,74),(63,70),(64,71),(64,75),(64,86),(66,71),(66,75),(66,80),(66,92),(68,85),
    (69,70),(70,74),(70,84),(70,82),(71,75),(71,80),(71,86),(71,97),(72,90),(72,83),(74,82),(74,81),(74,91),(75,86),(75,80),(75,89),(75,97),(77,84),(77,87),(79,85),
    (80,86),(80,92),(81,91),(81,84),(82,94),(82,91),(84,87),(84,95),(84,94),(86,92),(87,95),(87,101),(88,100),(89,97),(90,99),(91,92),(93,103),(94,95),(94,102),(96,103),
    (96,112),(101,106),(101,108),(101,113),(101,87),(102,108),(102,114),(103,112),(103,118),(103,105),(104,107),(106,108),(106,114),(106,119),(108,114),(108,119),(110,98),(111,114),(112,113),(115,107),
    (116,127),(118,105),(120,126),(121,114),(122,123),(124,93),(125,126),(126,128),(126,129),(124,105),(115,104)]
neg_h_n25 = [(0,11),(11,15),(11,22),(15,22),(15,24),(23,24),(7,24),(13,24),(13,28),(24,32),(28,32),(24,33),(28,33),(28,36),(28,46),(39,51),(39,45),(51,57),(56,63),(57,63),
    (57,74),(57,82),(63,70),(70,74),(70,82),(70,94),(56,82),(74,88),(81,94),(81,84),(81,87),(84,94),(87,94),(77,81),(79,87),(87,106),(84,117),(95,117),(95,81),(95,94),
    (71,72),(71,86),(75,72),(75,89),(86,75),(89,90),(89,99),(72,65),(78,90),(78,109),(98,90),(98,65),(98,99),(120,98)]

legend_pcts = [('81.60%', '18.40%'), ('89.08%', '10.92%'), ('79.63%', '20.37%'), ('86.36%', '13.64%'),
               ('88.85%', '11.15%'), ('93.30%', '6.70%'), ('79.41%', '20.59%'), ('82.73%', '17.27%')]
n_values = [121, 115, 96, 98, 127, 105, 125, 130]
l_values = [413, 238, 191, 166, 296, 179, 340, 330]

W, H = 4947, 2160
POS = '#ffa6b8'
NEG = '#3fc3a0'
POS_KEY = '#ff7a92'
NEG_KEY = '#00aa78'
BLUE = '#016597'
YELLOW = '#ffd340'
DARK = '#231815'

sns.set_theme(style='white')
plt.rcParams['font.family'] = ['Liberation Sans', 'DejaVu Sans']
plt.rcParams['mathtext.fontset'] = 'custom'
plt.rcParams['mathtext.it'] = 'Liberation Sans:italic'
plt.rcParams['mathtext.rm'] = 'Liberation Sans'

fig = plt.figure(figsize=(W / 100, H / 100), dpi=100, facecolor='white')


def box(x0, y0, x1, y1):
    # pixel box from the top left corner -> figure fractions
    return [x0 / W, 1 - y1 / H, (x1 - x0) / W, (y1 - y0) / H]


def px_text(x, y, s, **kw):
    return fig.text(x / W, 1 - y / H, s, **kw)


def draw_network(crop, nodes, pos_edges, neg_edges):
    ax = fig.add_axes(box(crop[0], crop[1], crop[0] + crop[2], crop[1] + crop[3]))
    ax.patch.set_alpha(0)
    ax.set_xlim(0, 1568)
    ax.set_ylim(1568, 0)
    ax.axis('off')
    df = pd.DataFrame(nodes, columns=['x', 'y', 'r'])
    xy = df[['x', 'y']].to_numpy(dtype=float)
    mid_all = xy.mean(axis=0)
    for edges, color, z in [(pos_edges, POS, 1), (neg_edges, NEG, 2)]:
        for a, b in edges:
            p, q = xy[a], xy[b]
            mid = (p + q) / 2
            d = q - p
            normal = np.array([-d[1], d[0]])
            # arcs bow away from the middle of the network
            if np.dot(normal, mid - mid_all) < 0:
                normal = -normal
            ctrl = mid + 0.17 * normal
            path = Path([p, ctrl, q], [Path.MOVETO, Path.CURVE3, Path.CURVE3])
            ax.add_patch(PathPatch(path, fc='none', ec=color, lw=0.85, zorder=z, clip_on=False))
    shown = df[df['r'] > 0]
    k = 1568 / crop[2]
    sizes = (2.2 * shown['r'].to_numpy() / k * 0.72) ** 2
    sns.scatterplot(data=shown, x='x', y='y', s=sizes, color='#bdbdbd', edgecolor='#5f5f5f',
                    linewidth=0.9, zorder=3, ax=ax, clip_on=False, legend=False)
    ax.set_xlabel('')
    ax.set_ylabel('')
    return ax


crops = [(0, 0, 1050, 1050), (1040, 160, 900, 900), (1920, 160, 900, 900), (2810, 190, 900, 900),
         (0, 1000, 1050, 1160), (1040, 1120, 900, 900), (1930, 1140, 900, 900), (2810, 1130, 900, 900)]
networks = [(nodes_y_ck, pos_y_ck, neg_y_ck), (nodes_y_n10, pos_y_n10, neg_y_n10),
            (nodes_y_n20, pos_y_n20, neg_y_n20), (nodes_y_n25, pos_y_n25, neg_y_n25),
            (nodes_h_ck, pos_h_ck, neg_h_ck), (nodes_h_n10, pos_h_n10, neg_h_n10),
            (nodes_h_n20, pos_h_n20, neg_h_n20), (nodes_h_n25, pos_h_n25, neg_h_n25)]
for crop, (nodes, pos_e, neg_e) in zip(crops, networks):
    draw_network(crop, nodes, pos_e, neg_e)

# Legend key: line left, line right, line y pos, line y neg, text x, text y pos, text y neg
key_pos = [(260, 418, 97, 143, 441, 90, 136), (1153, 1310, 109, 155, 1334, 102, 147),
           (2060, 2217, 108, 155, 2240, 103, 150), (2950, 3107, 100, 146, 3133, 95, 141),
           (367, 524, 1044, 1091, 548, 1038, 1084), (1192, 1349, 1066, 1110, 1373, 1062, 1108),
           (2093, 2250, 1071, 1116, 2275, 1063, 1110), (2956, 3115, 1085, 1131, 3137, 1080, 1123)]
# n and L text: x, y n, y L
nl_pos = [(896, 188, 253), (1745, 198, 263), (2703, 203, 266), (3550, 191, 256),
          (893, 1148, 1212), (1772, 1146, 1209), (2660, 1160, 1220), (3563, 1150, 1210)]

for (x0, x1, y_p, y_n, tx, ty_p, ty_n), (pct_p, pct_n), (nx, ny, ly), n, L in zip(
        key_pos, legend_pcts, nl_pos, n_values, l_values):
    fig.add_artist(Line2D([x0 / W, x1 / W], [1 - y_p / H, 1 - y_p / H], color=POS_KEY, lw=4.2, solid_capstyle='butt'))
    fig.add_artist(Line2D([x0 / W, x1 / W], [1 - y_n / H, 1 - y_n / H], color=NEG_KEY, lw=4.2, solid_capstyle='butt'))
    px_text(tx, ty_p, f'positive {pct_p}', fontsize=39.5, color='black', va='center', ha='left')
    px_text(tx, ty_n, f'negative {pct_n}', fontsize=39.5, color='black', va='center', ha='left')
    px_text(nx, ny, f'$n$={n}', fontsize=37.5, color='black', va='center', ha='left')
    px_text(nx, ly, f'$L$={L}', fontsize=37.5, color='black', va='center', ha='left')

# Panel and row labels
px_text(40, 92, 'a', fontsize=77, color='black', va='center', ha='left')
px_text(3790, 116, 'b', fontsize=77, color='black', va='center', ha='left')
px_text(66, 564, 'Y', fontsize=64, color=DARK, va='center', ha='center')
px_text(68, 1531, 'H', fontsize=64, color=DARK, va='center', ha='center')
for name, cx in zip(treatments, [532, 1515, 2382, 3275]):
    px_text(cx, 2080, name, fontsize=64, color=DARK, va='center', ha='center')

# Separator between a and b
fig.add_artist(Line2D([3730 / W, 3730 / W], [1 - 37 / H, 1 - 2124 / H], color='#333333', lw=1.4))


def draw_bars(ax_box, y_vals, h_vals, ymax, major, minor, xlim, tick_size):
    ax = fig.add_axes(box(*ax_box))
    df = pd.DataFrame({'treatment': treatments * 2,
                       'value': list(y_vals) + list(h_vals),
                       'site': ['Y'] * 4 + ['H'] * 4})
    sns.barplot(data=df, x='treatment', y='value', hue='site', hue_order=['Y', 'H'],
                palette={'Y': BLUE, 'H': YELLOW}, width=0.8, saturation=1, legend=False, ax=ax)
    ax.set_xlim(*xlim)
    ax.set_ylim(0, ymax)
    ax.set_yticks(major)
    ax.set_yticks(minor, minor=True)
    ax.tick_params(axis='y', which='major', direction='in', length=11, width=2, labelsize=tick_size, pad=12, left=True, colors='black')
    ax.tick_params(axis='y', which='minor', direction='in', length=5.5, width=2, left=True)
    ax.tick_params(axis='x', length=0, pad=14, labelsize=61, colors='black')
    sns.despine(ax=ax, top=True, right=True)
    for side in ['left', 'bottom']:
        ax.spines[side].set_linewidth(2.2)
        ax.spines[side].set_color('black')
    ax.set_xlabel('')
    return ax


ax1 = draw_bars((3949, 272, 4897, 1022), degree_y, degree_h, 8, [0, 2, 4, 6, 8], [1, 3, 5, 7], (-0.495, 3.5), 58)
ax1.set_xticklabels([])
ax1.set_ylabel('')
px_text(3828, 650, 'Average degree', fontsize=66, rotation=90, color='black', va='center', ha='center')

ax2 = draw_bars((3961, 1323, 4899, 2025), modularity_y, modularity_h, 0.9, [0, 0.3, 0.6, 0.9], [0.15, 0.45, 0.75],
                (-0.498, 3.45), 50)
ax2.set_yticklabels(['0.0', '0.3', '0.6', '0.9'])
ax2.set_ylabel('')
px_text(3807, 1665, 'Modularity', fontsize=60, rotation=90, color='black', va='center', ha='center')

# Legend of panel b
for y0, y1, color, label in [(159, 251, BLUE, 'Y'), (261, 354, YELLOW, 'H')]:
    fig.add_artist(Rectangle((4580 / W, 1 - y1 / H), 190 / W, (y1 - y0) / H, transform=fig.transFigure,
                             fc=color, ec='none'))
    px_text(4822, (y0 + y1) / 2, label, fontsize=60, color='black', va='center', ha='center')

fig.savefig('out.png', dpi=100, facecolor='white')
